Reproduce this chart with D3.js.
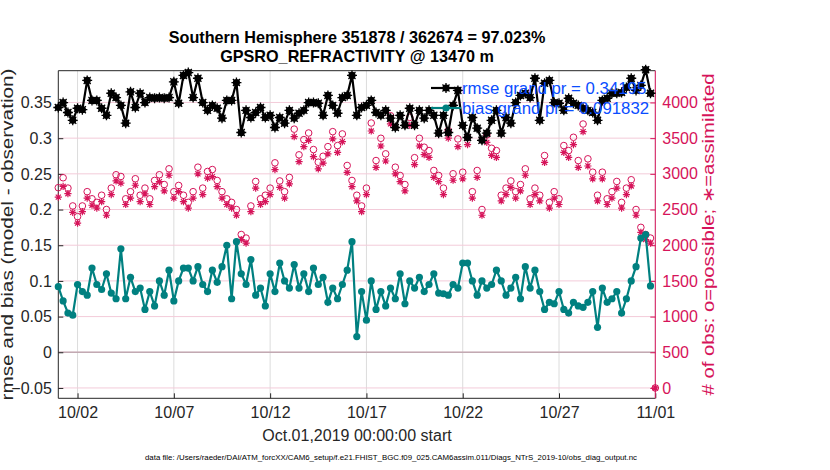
<!DOCTYPE html>
<html>
<head>
<meta charset="utf-8">
<script src="https://cdn.jsdelivr.net/npm/d3@7"></script>
<style>
body { margin: 0; background: #fff; }
text { font-family: "Liberation Sans", Arial, sans-serif; }
</style>
</head>
<body>
<script>
// values, one per 6 hour bin from Oct 1 00Z
var rmse = [0.343,0.350,0.336,0.325,0.342,0.340,0.381,0.353,0.353,0.342,
	0.332,0.363,0.357,0.346,0.321,0.365,0.343,0.363,0.350,0.357,
	0.356,0.357,0.356,0.357,0.379,0.349,0.388,0.392,0.357,0.384,
	0.350,0.339,0.346,0.342,0.328,0.353,0.353,0.378,0.308,0.339,
	0.329,0.336,0.343,0.329,0.332,0.315,0.329,0.321,0.339,0.328,
	0.335,0.339,0.350,0.350,0.349,0.332,0.360,0.346,0.335,0.357,
	0.360,0.388,0.332,0.343,0.346,0.353,0.336,0.332,0.339,0.328,
	0.315,0.332,0.318,0.342,0.318,0.339,0.328,0.339,0.332,0.307,
	0.332,0.308,0.346,0.367,0.318,0.301,0.329,0.314,0.297,0.307,
	0.325,0.339,0.307,0.329,0.321,0.350,0.360,0.363,0.357,0.384,
	0.325,0.377,0.381,0.350,0.349,0.339,0.356,0.349,0.346,0.342,
	0.339,0.336,0.325,0.353,0.356,0.363,0.363,0.364,0.371,0.384,
	0.367,0.374,0.396,0.363,null];

var bias = [0.092,0.072,0.055,0.052,0.095,0.085,0.080,0.118,0.095,0.088,
	0.110,0.083,0.075,0.145,0.075,0.105,0.085,0.090,0.060,0.085,
	0.065,0.100,0.080,0.115,0.072,0.100,0.118,0.118,0.100,0.120,
	0.095,0.085,0.115,0.098,0.120,0.150,0.075,0.155,0.110,0.095,
	0.130,0.080,0.090,0.065,0.110,0.085,0.125,0.100,0.090,0.123,
	0.090,0.110,0.085,0.118,0.095,0.105,0.070,0.090,0.075,0.095,
	0.115,0.155,0.022,0.085,0.045,0.100,0.060,0.085,0.065,0.090,
	0.075,0.110,0.068,0.100,0.090,0.105,0.085,0.095,0.110,0.083,
	0.082,0.080,0.095,0.090,0.125,0.125,0.100,0.080,0.100,0.090,
	0.095,0.115,0.100,0.080,0.090,0.105,0.075,0.120,0.090,0.115,
	0.085,0.060,0.070,0.068,0.085,0.060,0.055,0.070,0.065,0.063,
	0.070,0.085,0.035,0.090,0.070,0.075,0.085,0.055,0.075,0.100,
	0.120,0.160,0.165,0.093,null];

var possible = [2806,2945,2800,2550,2400,2550,2750,2650,2600,2700,
	2500,2800,2987,2963,2650,2750,2931,2700,2800,2650,
	2907,2987,2850,3070,2750,2837,2700,2600,2750,3093,
	2800,3033,3060,2907,2750,2650,2600,2500,2150,2100,
	2550,2893,2650,2700,2800,3154,2900,2750,2950,3626,
	3266,3479,3572,3340,3163,3246,3381,3591,3396,3559,
	3117,2907,2700,2550,2800,3712,3186,3498,3280,3814,
	3093,2977,2850,3791,3226,3498,3373,3326,3047,2977,
	2800,3605,3001,3489,3023,3512,2750,3047,2500,3545,
	3358,3326,2700,2800,2900,2750,2850,3070,2650,2800,
	2700,3256,2600,2750,2650,3396,3326,3512,3186,3698,
	3210,3023,2700,3023,2650,2750,2893,2600,2800,2917,
	2500,2250,2150,2100,0];

var assimilated = [2674,2823,2722,2460,2310,2470,2660,2560,2520,2610,
	2420,2710,2900,2870,2570,2660,2840,2610,2720,2570,
	2820,2890,2760,2980,2660,2750,2610,2520,2660,3000,
	2710,2940,2960,2820,2660,2570,2520,2420,2080,2030,
	2470,2800,2570,2610,2710,3060,2810,2660,2860,3520,
	3170,3380,3470,3240,3070,3150,3280,3490,3300,3450,
	3020,2820,2620,2470,2710,3600,3090,3390,3180,3700,
	3000,2890,2760,3680,3130,3390,3270,3230,2950,2890,
	2710,3500,2910,3380,2930,3410,2660,2950,2420,3440,
	3260,3230,2620,2710,2810,2660,2760,2980,2570,2710,
	2620,3160,2520,2660,2570,3300,3230,3410,3090,3590,
	3110,2930,2620,2930,2570,2660,2800,2520,2710,2830,
	2420,2180,2080,2030,0];

var dayTicks = [1, 6, 11, 16, 21, 26, 31];
var dayLabels = ['10/02', '10/07', '10/12', '10/17', '10/22', '10/27', '11/01'];
var leftTicks = [-0.05, 0, 0.05, 0.1, 0.15, 0.2, 0.25, 0.3, 0.35];
var rightTicks = [0, 500, 1000, 1500, 2000, 2500, 3000, 3500, 4000];
var legendLabels = ['rmse grand pr = 0.34195', 'bias grand pr = 0.091832'];

var W = 830, H = 470;
var L = 58.3, R = 655.3, T = 70.7, B = 398.3;
var red = '#d6145a', teal = '#008080', ink = '#262626';
var font = '"Liberation Sans", Arial, sans-serif';

var days = rmse.map(function(d, i){ return i / 4; });

var svg = d3.select('body').append('svg').attr('width', W).attr('height', H);

var x = d3.scaleLinear().domain([0, 31]).range([L, R]);
var y = d3.scaleLinear().domain([-0.0645, 0.3946]).range([B, T]);
var y2 = d3.scaleLinear().domain([-145, 4445]).range([B, T]);

// grid
svg.append('g').selectAll('line').data(dayTicks).enter().append('line')
	.attr('x1', function(d){ return x(d); }).attr('x2', function(d){ return x(d); })
	.attr('y1', T).attr('y2', B).attr('stroke', '#dcdcdc').attr('stroke-width', 1);
svg.append('g').selectAll('line').data(rightTicks).enter().append('line')
	.attr('x1', L).attr('x2', R)
	.attr('y1', function(d){ return y2(d); }).attr('y2', function(d){ return y2(d); })
	.attr('stroke', '#f3cbd9').attr('stroke-width', 1);
svg.append('line').attr('x1', L).attr('x2', R).attr('y1', y(0)).attr('y2', y(0))
	.attr('stroke', '#c2a9b2').attr('stroke-width', 1.6);

// axes
var xAxis = d3.axisBottom(x).tickValues(dayTicks)
	.tickFormat(function(d, i){ return dayLabels[i]; }).tickSizeInner(-5).tickSizeOuter(0).tickPadding(8.5);
var gx = svg.append('g').attr('transform', 'translate(0,' + B + ')').call(xAxis);
var yAxis = d3.axisLeft(y).tickValues(leftTicks).tickFormat(d3.format('~g')).tickSizeInner(-5).tickSizeOuter(0).tickPadding(6.5);
var gy = svg.append('g').attr('transform', 'translate(' + L + ',0)').call(yAxis);
var yAxis2 = d3.axisRight(y2).tickValues(rightTicks).tickFormat(d3.format('d')).tickSizeInner(-5).tickSizeOuter(0).tickPadding(7);
var gy2 = svg.append('g').attr('transform', 'translate(' + R + ',0)').call(yAxis2);

[gx, gy, gy2].forEach(function(g){
	g.selectAll('text').attr('font-size', 16).attr('font-family', font);
	g.select('.domain').remove();
});
gx.selectAll('line').attr('stroke', ink);
gx.selectAll('text').attr('fill', ink);
gy.selectAll('line').attr('stroke', ink);
gy.selectAll('text').attr('fill', ink);
gy2.selectAll('line').attr('stroke', red);
gy2.selectAll('text').attr('fill', red);

svg.append('line').attr('x1', L).attr('x2', R).attr('y1', T).attr('y2', T).attr('stroke', ink);
svg.append('line').attr('x1', L).attr('x2', R).attr('y1', B).attr('y2', B).attr('stroke', ink);
svg.append('line').attr('x1', L).attr('x2', L).attr('y1', T).attr('y2', B).attr('stroke', ink);
svg.append('line').attr('x1', R).attr('x2', R).attr('y1', T).attr('y2', B).attr('stroke', red);

function star(cx, cy, r){
	var p = '';
	for (var k = 0; k < 4; k++){
		var a = k * Math.PI / 4;
		p += 'M' + (cx - r * Math.cos(a)) + ',' + (cy - r * Math.sin(a)) + 'L' + (cx + r * Math.cos(a)) + ',' + (cy + r * Math.sin(a));
	}
	return p;
}

var plot = svg.append('g');

// obs counts
plot.selectAll('circle.pos').data(possible).enter().append('circle')
	.attr('cx', function(d, i){ return x(days[i]); })
	.attr('cy', function(d){ return y2(d); })
	.attr('r', 3.3).attr('fill', 'none').attr('stroke', red).attr('stroke-width', 1);
plot.selectAll('path.asm').data(assimilated).enter().append('path')
	.attr('d', function(d, i){ return star(x(days[i]), y2(d), 3.6); })
	.attr('stroke', red).attr('stroke-width', 1.2);

var line = d3.line()
	.defined(function(d){ return d != null; })
	.x(function(d, i){ return x(days[i]); })
	.y(function(d){ return y(d); });

function series(vals, color, r, withStar){
	plot.append('path').datum(vals).attr('d', line)
		.attr('fill', 'none').attr('stroke', color).attr('stroke-width', 2.2);
	var pts = vals.map(function(d, i){ return [i, d]; }).filter(function(p){ return p[1] != null; });
	plot.selectAll(null).data(pts).enter().append('circle')
		.attr('cx', function(p){ return x(days[p[0]]); })
		.attr('cy', function(p){ return y(p[1]); })
		.attr('r', r).attr('fill', color);
	if (withStar){
		plot.selectAll(null).data(pts).enter().append('path')
			.attr('d', function(p){ return star(x(days[p[0]]), y(p[1]), 5); })
			.attr('stroke', color).attr('stroke-width', 1.3);
	}
}
series(bias, teal, 3.6, false);
series(rmse, 'black', 3.6, true);

// legend
var lg = svg.append('g');
[['black', true], [teal, false]].forEach(function(s, k){
	var ly = 88 + k * 20;
	lg.append('line').attr('x1', 431).attr('x2', 461).attr('y1', ly).attr('y2', ly)
		.attr('stroke', s[0]).attr('stroke-width', 2.2);
	lg.append('circle').attr('cx', 446).attr('cy', ly).attr('r', 3.6).attr('fill', s[0]);
	if (s[1]) lg.append('path').attr('d', star(446, ly, 5)).attr('stroke', s[0]).attr('stroke-width', 1.3);
	lg.append('text').attr('x', 462).attr('y', ly + 6).attr('font-size', 16.8)
		.attr('fill', '#0a4dff').text(legendLabels[k]);
});

// titles
svg.append('text').attr('x', 357).attr('y', 43).attr('text-anchor', 'middle')
	.attr('font-size', 16.2).attr('font-weight', 'bold').attr('fill', '#000')
	.text('Southern Hemisphere 351878 / 362674 = 97.023%');
svg.append('text').attr('x', 357).attr('y', 62).attr('text-anchor', 'middle')
	.attr('font-size', 16.2).attr('font-weight', 'bold').attr('fill', '#000')
	.text('GPSRO_REFRACTIVITY @ 13470 m');
svg.append('text').attr('x', 357).attr('y', 441).attr('text-anchor', 'middle')
	.attr('font-size', 16).attr('fill', ink).text('Oct.01,2019 00:00:00 start');
svg.append('text').attr('transform', 'translate(13,' + ((T + B) / 2) + ') rotate(-90)')
	.attr('text-anchor', 'middle').attr('font-size', 16).attr('fill', ink)
	.attr('textLength', 332).attr('lengthAdjust', 'spacingAndGlyphs')
	.text('rmse and bias (model - observation)');
svg.append('text').attr('transform', 'translate(714,' + ((T + B) / 2) + ') rotate(-90)')
	.attr('text-anchor', 'middle').attr('font-size', 16).attr('fill', red)
	.attr('textLength', 322).attr('lengthAdjust', 'spacingAndGlyphs')
	.text('# of obs: o=possible; \u2217=assimilated');
svg.append('text').attr('x', 145).attr('y', 460).attr('font-size', 7.3).attr('fill', '#000')
	.attr('textLength', 492).attr('lengthAdjust', 'spacingAndGlyphs')
	.text('data file: /Users/raeder/DAI/ATM_forcXX/CAM6_setup/f.e21.FHIST_BGC.f09_025.CAM6assim.011/Diags_NTrS_2019-10/obs_diag_output.nc');
</script>
</body>
</html>
